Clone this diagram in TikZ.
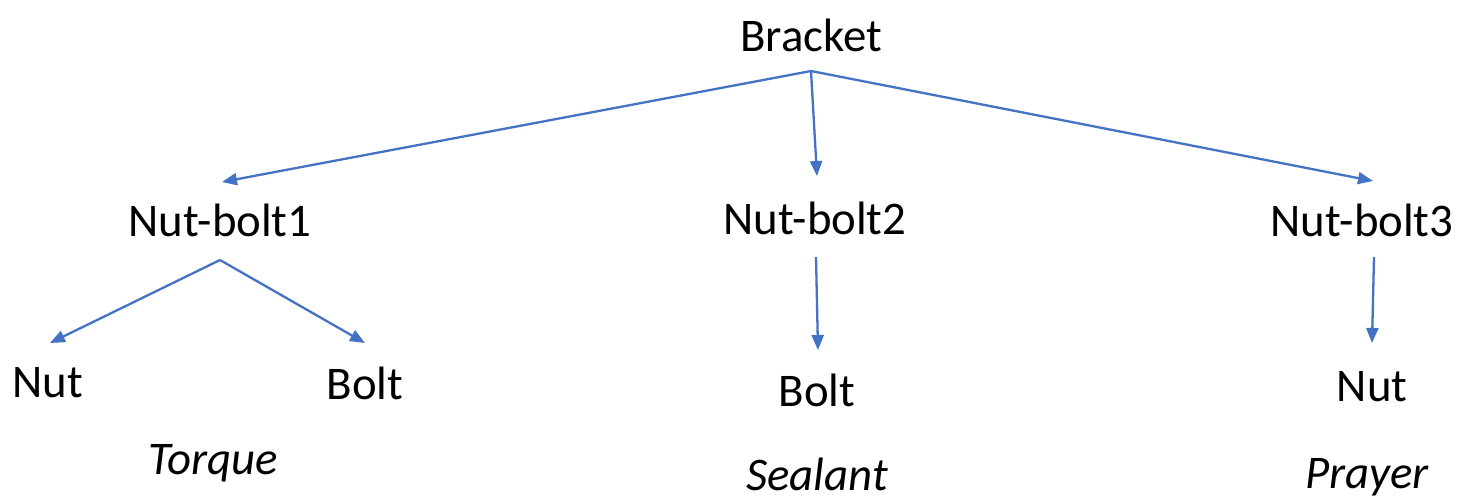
\documentclass[tikz,border=0pt]{standalone}
\usepackage{fontspec}
\setmainfont{Carlito}
\usetikzlibrary{arrows.meta}
\definecolor{linkblue}{HTML}{4472C4}
\begin{document}
\begin{tikzpicture}[x=0.5pt,y=-0.5pt,
  lbl/.style={font=\fontsize{23.4}{27}\selectfont, inner sep=0pt, anchor=center},
  ital/.style={lbl, font=\fontsize{23.4}{27}\selectfont\itshape},
  link/.style={draw=linkblue, line width=1.15pt, -{Triangle[length=7.5pt,width=6pt]}}]
\useasboundingbox (0,0) rectangle (1473,500);
\node[lbl] (br) at (811,35) {Bracket};
\node[lbl] (nb1) at (220,220) {Nut-bolt1};
\node[lbl] (nb2) at (815,218) {Nut-bolt2};
\node[lbl] (nb3) at (1362,220) {Nut-bolt3};
\node[lbl] (nutL) at (48,383) {Nut};
\node[lbl] (boltL) at (365,383) {Bolt};
\node[lbl] (boltM) at (817,390) {Bolt};
\node[lbl] (nutR) at (1372,387) {Nut};
\node[ital] (tq) at (213,463) {Torque};
\node[ital] (sl) at (817,474) {Sealant};
\node[ital] (pr) at (1367,477) {Prayer};
% connector ends
\coordinate (brA) at (811,71);
\coordinate (t1) at (222,182);
\coordinate (t2) at (817,176);
\coordinate (t3) at (1373,181);
\coordinate (nb1A) at (220,260);
\coordinate (tNL) at (50,343);
\coordinate (tBL) at (365,343);
\coordinate (nb2A) at (816,257);
\coordinate (tBM) at (818,350);
\coordinate (nb3A) at (1374,257);
\coordinate (tNR) at (1372,343);
\draw[link] (brA) -- (t1);
\draw[link] (brA) -- (t2);
\draw[link] (brA) -- (t3);
\draw[link] (nb1A) -- (tNL);
\draw[link] (nb1A) -- (tBL);
\draw[link] (nb2A) -- (tBM);
\draw[link] (nb3A) -- (tNR);
\end{tikzpicture}
\end{document}
